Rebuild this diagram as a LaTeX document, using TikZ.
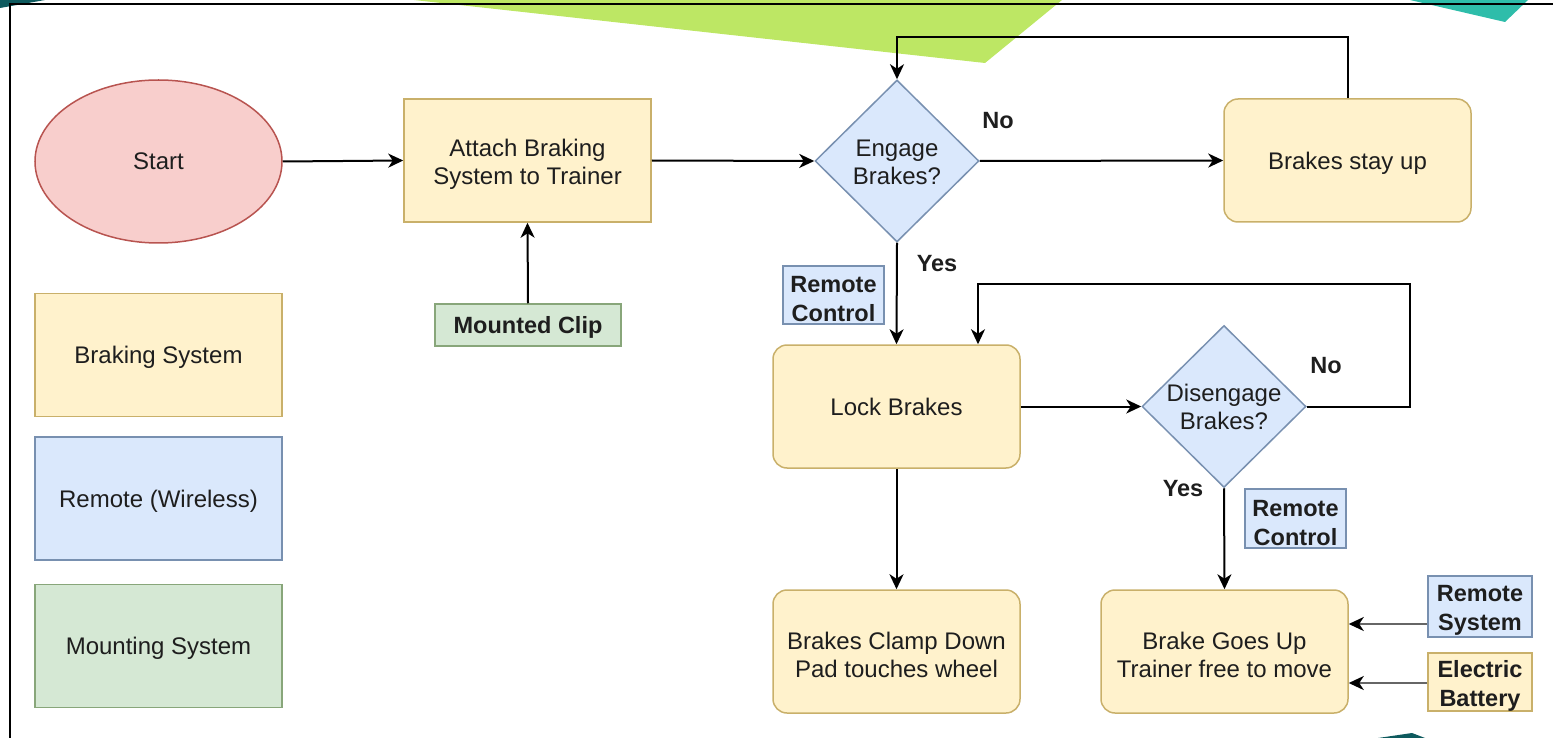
\documentclass[tikz,border=0pt]{standalone}
\usepackage{fontspec}
\setmainfont{Liberation Sans}
\usetikzlibrary{shapes.geometric,arrows.meta}
\definecolor{yfill}{HTML}{FFF2CC}\definecolor{ydraw}{HTML}{C9B06A}
\definecolor{bfill}{HTML}{DAE8FC}\definecolor{bdraw}{HTML}{7890B0}
\definecolor{gfill}{HTML}{D5E8D4}\definecolor{gdraw}{HTML}{88A67A}
\definecolor{rfill}{HTML}{F8CECC}\definecolor{rdraw}{HTML}{B85450}
\definecolor{txt}{HTML}{1E1E1E}
\definecolor{lime}{HTML}{BDE764}
\definecolor{teal1}{HTML}{2EBDAA}
\definecolor{teal2}{HTML}{0E5A5E}
\newcommand\tstrut{\rule{0pt}{25pt}}
\newcommand\dstrut{\rule{0pt}{19pt}}
\newcommand\bstrut{\rule{0pt}{24.5pt}}
\begin{document}
\begin{tikzpicture}[x=1pt,y=-1pt,
  font=\fontsize{24}{28}\selectfont, text=txt,
  yel/.style={fill=yfill,draw=ydraw},
  blu/.style={fill=bfill,draw=bdraw},
  grn/.style={fill=gfill,draw=gdraw},
  rd/.style={fill=rfill,draw=rdraw},
  proc/.style={rectangle,line width=1.5pt,inner sep=0pt,align=center,minimum width=247pt,minimum height=123pt},
  rproc/.style={proc,rounded corners=14pt},
  tag/.style={rectangle,line width=1.5pt,inner sep=0pt,align=center,font=\bfseries\fontsize{23.5}{29}\selectfont},
  dec/.style={diamond,aspect=1,line width=1.5pt,inner sep=0pt,minimum width=164pt,minimum height=162pt},
  lbl/.style={font=\bfseries\fontsize{23.5}{28}\selectfont,inner sep=0pt},
  conn/.style={line width=2pt,draw=black,-{Stealth[length=15pt,width=14pt,inset=4.5pt]}},
  gconn/.style={line width=2pt,draw=black!60,-{Stealth[length=15pt,width=14pt,inset=4.5pt,black]}}
]
\useasboundingbox (0,0) rectangle (1553,738);
% decorations
\fill[lime] (414,0) -- (1062,0) -- (985,63) -- cycle;
\fill[teal1] (1410,0) -- (1528,0) -- (1505,22) -- cycle;
\fill[teal2] (0,0) -- (45,0) -- (0,8) -- cycle;
\fill[teal2] (1378,738) -- (1412,733) -- (1425,738) -- cycle;
% frame
\draw[line width=2pt] (10,738) -- (10,4) -- (1553,4);

% nodes
\node[ellipse,rd,line width=1.5pt,inner sep=0pt,minimum width=247pt,minimum height=163pt] (start) at (158.5,161.5) {Start};
\node[proc,yel] (attach) at (527.5,160.5) {\tstrut Attach Braking\\System to Trainer};
\node[tag,grn,minimum width=186pt,minimum height=42pt,text depth=0pt] (clip) at (528,325) {Mounted Clip};
\node[dec,blu,label={[align=center]center:{\dstrut Engage\\Brakes?}}] (eng) at (897,161) {};
\node[rproc,yel,text depth=0pt] (stay) at (1347.5,160.5) {Brakes stay up};
\node[tag,blu,minimum width=101pt,minimum height=58pt] (rc1) at (833.5,295) {\bstrut Remote\\Control};
\node[rproc,yel] (lock) at (896.5,406.5) {Lock Brakes};
\node[dec,blu,label={[align=center]center:{\dstrut Disengage\\Brakes?}}] (dis) at (1224,406.5) {};
\node[tag,blu,minimum width=101pt,minimum height=59pt] (rc2) at (1295.5,518.5) {\bstrut Remote\\Control};
\node[rproc,yel] (clamp) at (896.5,651.5) {\tstrut Brakes Clamp Down\\Pad touches wheel};
\node[rproc,yel] (up) at (1224.5,651.5) {\tstrut Brake Goes Up\\Trainer free to move};
\node[tag,blu,minimum width=104pt,minimum height=61pt] (rs) at (1480,606.5) {\bstrut Remote\\System};
\node[tag,yel,minimum width=104pt,minimum height=52pt] (eb) at (1480,682) {\bstrut Electric\\Battery};
% legend
\node[proc,yel,text depth=0pt] (lg1) at (158.5,355) {Braking System};
\node[proc,blu,text depth=0pt] (lg2) at (158.5,498.5) {Remote (Wireless)};
\node[proc,grn,text depth=0pt] (lg3) at (158.5,646) {Mounting System};
% edge labels
\node[lbl] (no1) at (998,121) {No};
\node[lbl] (no2) at (1326,366) {No};
\node[lbl] (yes1) at (937,264) {Yes};
\node[lbl] (yes2) at (1183,489) {Yes};

% connectors
\draw[conn] (start.east) -- (attach.west);
\draw[conn] (clip.north) -- (attach.south);
\draw[conn] (attach.east) -- (eng.west);
\draw[conn] (eng.east) -- (stay.west);
\draw[conn] (stay.north) -- ++(0,-61) -| (eng.north);
\draw[conn] (eng.south) -- (lock.north);
\draw[conn] (lock.east) -- (dis.west);
\coordinate (l1) at ([xshift=81.5pt]lock.north);
\draw[conn] (dis.east) -- ++(103,0) -- ++(0,-122.5) -| (l1);
\draw[conn] (dis.south) -- (up.north);
\draw[conn] (lock.south) -- (clamp.north);
\coordinate (rsa) at ([yshift=-17.5pt]rs.west);
\coordinate (eba) at ([yshift=-1pt]eb.west);
\draw[gconn] (rsa) -- (up.east |- rsa);
\draw[gconn] (eba) -- (up.east |- eba);
\end{tikzpicture}
\end{document}
